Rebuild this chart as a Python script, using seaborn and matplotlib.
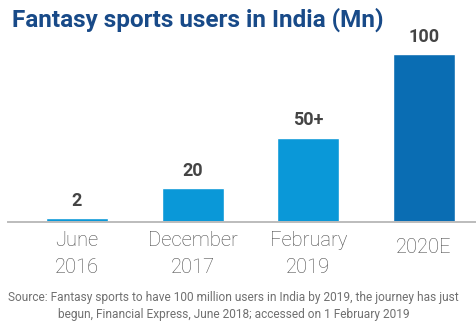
import matplotlib
matplotlib.use("Agg")
import matplotlib.pyplot as plt
import seaborn as sns
import pandas as pd

# Fantasy sports users in India, millions
periods = ["June\n2016", "December\n2017", "February\n2019", "2020E"]
users_mn = [2, 20, 50, 100]
value_labels = ["2", "20", "50+", "100"]
kind = ["actual", "actual", "actual", "estimate"]

df = pd.DataFrame({"period": periods, "users": users_mn, "kind": kind})

sns.set_theme(style="white")
plt.rcParams["font.family"] = ["Roboto", "DejaVu Sans"]

W, H = 477, 327
fig = plt.figure(figsize=(W / 100, H / 100), dpi=100)
ax = fig.add_axes([8 / W, (H - 221.5) / H, 1 - 8 / W, 221.5 / H])

palette = {"actual": "#0a98d8", "estimate": "#0a6db3"}
sns.barplot(data=df, x="period", y="users", hue="kind", palette=palette,
            dodge=False, width=0.536, legend=False, ax=ax, saturation=1)

ax.set_xlim(-0.596, 3.458)
ax.set_ylim(0, 132.2)

for i, (v, lab) in enumerate(zip(users_mn, value_labels)):
    ax.annotate(lab, (i, v), xytext=(0, 6), textcoords="offset points",
                ha="center", va="bottom", fontsize=13, fontweight="bold",
                color="#444444")

for s in ["top", "right", "left"]:
    ax.spines[s].set_visible(False)
ax.spines["bottom"].set_color("#bcbcbc")
ax.spines["bottom"].set_linewidth(1.4)
ax.set_yticks([])
ax.set_xlabel("")
ax.set_ylabel("")
ax.tick_params(axis="x", length=0, pad=7)
for t in ax.get_xticklabels():
    t.set_fontsize(14.5)
    t.set_fontweight("light")
    t.set_color("#4a4a4a")
    t.set_linespacing(1.5)
    if t.get_text() == "2020E":
        t.set_y(-0.03)

fig.text(12 / W, 1 - 20 / H, "Fantasy sports users in India (Mn)",
         ha="left", va="center", fontsize=17.5, fontweight="bold", color="#184a88")

fig.text(0.49, 1 - 306 / H,
         "Source: Fantasy sports to have 100 million users in India by 2019, the journey has just\n"
         "begun, Financial Express, June 2018; accessed on 1 February 2019",
         ha="center", va="center", fontsize=8.6, color="#707070",
         fontweight="normal", linespacing=1.35)

fig.savefig("out.png", dpi=100)
